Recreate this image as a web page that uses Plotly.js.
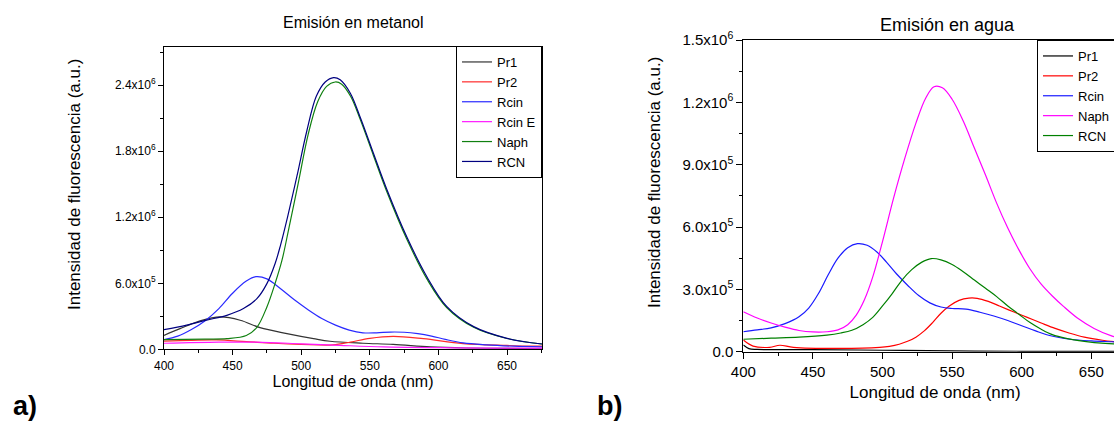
<!DOCTYPE html>
<html><head><meta charset="utf-8">
<script src="https://cdn.plot.ly/plotly-3.0.1.min.js"></script>
<style>html,body{margin:0;padding:0;overflow:hidden;background:#fff;width:1114px;height:423px}#chart{width:1130px;height:423px}</style>
</head><body><div id="chart"></div><script>
// ---------- Panel a) Emisión en metanol ----------
const a_Pr1_x = [400, 411.7, 426.3, 441, 455.5, 470, 489.6, 509, 521, 545, 567, 594, 620, 650, 675.5];
const a_Pr1_y = [1.27e5, 1.88e5, 2.58e5, 2.94e5, 2.64e5, 1.97e5, 1.43e5, 9.7e4, 7.3e4, 5.5e4, 4.5e4, 2.2e4, 1.2e4, 8e3, 5e3];
const a_Pr2_x = [400, 420, 438, 460, 480, 500, 523, 536, 550, 567, 589, 618, 650, 675.5];
const a_Pr2_y = [7.5e4, 8.2e4, 8.5e4, 7.0e4, 5.5e4, 4.5e4, 4.0e4, 6.6e4, 1.0e5, 1.18e5, 9.7e4, 5.2e4, 3.5e4, 2.8e4];
const a_Rcin_x = [400, 410, 420, 430, 440, 450, 460, 467, 475, 485, 495, 505, 515, 525, 535, 545, 555, 565, 575, 585, 595, 605, 618, 635, 655, 675.5];
const a_Rcin_y = [8.8e4, 1.2e5, 1.8e5, 2.6e5, 3.7e5, 5.1e5, 6.2e5, 6.6e5, 6.4e5, 5.5e5, 4.5e5, 3.6e5, 2.8e5, 2.2e5, 1.75e5, 1.5e5, 1.5e5, 1.57e5, 1.55e5, 1.42e5, 1.2e5, 9.0e4, 5.8e4, 4.0e4, 2.8e4, 2.2e4];
const a_RcinE_x = [400, 440, 467, 500, 528, 560, 600, 640, 675.5];
const a_RcinE_y = [5.5e4, 6.5e4, 6.5e4, 5.0e4, 3.6e4, 2.2e4, 1.5e4, 1.1e4, 1.0e4];
const a_Naph_x = [400, 430, 445.8, 460, 467.7, 475, 481, 486, 491, 498, 505, 512, 518.5, 524.8, 529.5, 536, 543, 552.7, 562.5, 577, 591.6, 606, 625.7, 650, 675.5];
const a_Naph_y = [8.8e4, 9.3e4, 9.7e4, 1.25e5, 2.0e5, 3.85e5, 6.0e5, 8.1e5, 1.1e6, 1.52e6, 1.95e6, 2.25e6, 2.39e6, 2.43e6, 2.41e6, 2.3e6, 2.09e6, 1.76e6, 1.43e6, 1.0e6, 6.4e5, 3.8e5, 2.0e5, 9.8e4, 4.8e4];
const a_RCN_x = [400, 416.5, 431, 445.8, 457.9, 467.7, 475, 481, 485, 490, 497, 504, 511, 517.5, 523.6, 528.4, 535.7, 543, 552.7, 562.5, 577, 591.6, 606, 625.7, 650, 675.5];
const a_RCN_y = [1.79e5, 2.2e5, 2.65e5, 3.09e5, 3.7e5, 4.6e5, 5.97e5, 7.8e5, 9.5e5, 1.2e6, 1.58e6, 1.98e6, 2.3e6, 2.43e6, 2.47e6, 2.45e6, 2.33e6, 2.11e6, 1.78e6, 1.45e6, 1.02e6, 6.6e5, 3.9e5, 2.06e5, 1.0e5, 4.8e4];
const a_yTickVals = [0, 6e5, 1.2e6, 1.8e6, 2.4e6];
const a_yTickText = ['0.0', '6.0x10<sup>5</sup>', '1.2x10<sup>6</sup>', '1.8x10<sup>6</sup>', '2.4x10<sup>6</sup>'];

// ---------- Panel b) Emisión en agua ----------
const b_Pr1_x = [400, 404, 410, 450, 500, 550, 600, 675.5];
const b_Pr1_y = [3.2e4, 1.5e4, 1.1e4, 1.0e4, 7e3, 4e3, 2e3, 1e3];
const b_Pr2_x = [400, 407, 419, 426.3, 436, 469.5, 498, 505, 512, 518, 524, 530, 536, 542, 548, 555, 562, 568, 576, 584, 594, 604, 614, 624, 634, 645, 658, 675.5];
const b_Pr2_y = [5.6e4, 2.7e4, 2.1e4, 3.1e4, 2.1e4, 1.6e4, 2.1e4, 2.6e4, 3.6e4, 5.0e4, 7.0e4, 1.0e5, 1.4e5, 1.85e5, 2.2e5, 2.47e5, 2.58e5, 2.57e5, 2.42e5, 2.2e5, 1.92e5, 1.65e5, 1.38e5, 1.12e5, 9.0e4, 7.0e4, 5.5e4, 4.2e4];
const b_Rcin_x = [400, 410, 420, 430, 440, 447, 454, 461, 468, 475, 482, 489, 496, 503, 510, 518, 526, 534, 542, 550, 560, 570, 580, 590, 600, 610, 620, 635, 650, 665, 675.5];
const b_Rcin_y = [9.6e4, 1.05e5, 1.15e5, 1.35e5, 1.68e5, 2.1e5, 2.8e5, 3.7e5, 4.5e5, 5.0e5, 5.2e5, 5.12e5, 4.8e5, 4.3e5, 3.75e5, 3.2e5, 2.7e5, 2.35e5, 2.15e5, 2.08e5, 2.05e5, 1.9e5, 1.72e5, 1.5e5, 1.25e5, 1.0e5, 7.8e4, 6.0e4, 5.2e4, 4.8e4, 4.5e4];
const b_Naph_x = [400, 410, 420, 430, 440, 450, 460, 468, 475, 481, 487, 493, 500, 508, 516, 524, 531, 537, 543, 550, 558, 566, 574, 582, 590, 598, 606, 614, 622, 630, 640, 652, 665, 675.5];
const b_Naph_y = [1.92e5, 1.62e5, 1.38e5, 1.18e5, 1.02e5, 9.5e4, 9.6e4, 1.05e5, 1.3e5, 1.75e5, 2.5e5, 3.6e5, 5.3e5, 7.4e5, 9.3e5, 1.1e6, 1.22e6, 1.275e6, 1.27e6, 1.215e6, 1.11e6, 9.8e5, 8.5e5, 7.15e5, 5.95e5, 4.9e5, 3.98e5, 3.25e5, 2.68e5, 2.18e5, 1.62e5, 1.12e5, 7.5e4, 5.8e4];
const b_RCN_x = [400, 420, 440, 460, 470, 478, 486, 493, 500, 507, 514, 521, 528, 535, 542, 550, 558, 566, 574, 582, 590, 598, 606, 614, 622, 632, 645, 660, 675.5];
const b_RCN_y = [6.0e4, 6.5e4, 7.0e4, 8.0e4, 9.0e4, 1.03e5, 1.3e5, 1.65e5, 2.2e5, 2.8e5, 3.45e5, 3.95e5, 4.3e5, 4.48e5, 4.42e5, 4.2e5, 3.85e5, 3.45e5, 3.05e5, 2.65e5, 2.2e5, 1.8e5, 1.4e5, 1.08e5, 8.2e4, 6.4e4, 5.0e4, 4.0e4, 3.5e4];
const b_yTickVals = [0, 3e5, 6e5, 9e5, 1.2e6, 1.5e6];
const b_yTickText = ['0.0', '3.0x10<sup>5</sup>', '6.0x10<sup>5</sup>', '9.0x10<sup>5</sup>', '1.2x10<sup>6</sup>', '1.5x10<sup>6</sup>'];

const xTitle = 'Longitud de onda (nm)';
const yTitle = 'Intensidad de fluorescencia (a.u.)';

const FONT = 'Liberation Sans, Arial, sans-serif';
const W = 1130, H = 423;
const px = v => v / W, py = v => (H - v) / H;

function tr(name, x, y, color, xa, ya, leg) {
  return {type: 'scatter', mode: 'lines', name: name, x: x, y: y,
    xaxis: xa, yaxis: ya, legend: leg,
    line: {color: color, width: 1.2, shape: 'spline', smoothing: 1}};
}

const data = [
  tr('Pr1', a_Pr1_x, a_Pr1_y, '#333333', 'x', 'y', 'legend'),
  tr('Pr2', a_Pr2_x, a_Pr2_y, '#ff2a2a', 'x', 'y', 'legend'),
  tr('Rcin', a_Rcin_x, a_Rcin_y, '#2a2aff', 'x', 'y', 'legend'),
  tr('Rcin E', a_RcinE_x, a_RcinE_y, '#ff1aff', 'x', 'y', 'legend'),
  tr('Naph', a_Naph_x, a_Naph_y, '#108010', 'x', 'y', 'legend'),
  tr('RCN', a_RCN_x, a_RCN_y, '#000080', 'x', 'y', 'legend'),
  tr('Pr1', b_Pr1_x, b_Pr1_y, '#000000', 'x2', 'y2', 'legend2'),
  tr('Pr2', b_Pr2_x, b_Pr2_y, '#ff0000', 'x2', 'y2', 'legend2'),
  tr('Rcin', b_Rcin_x, b_Rcin_y, '#1a1aff', 'x2', 'y2', 'legend2'),
  tr('Naph', b_Naph_x, b_Naph_y, '#ff00ff', 'x2', 'y2', 'legend2'),
  tr('RCN', b_RCN_x, b_RCN_y, '#008000', 'x2', 'y2', 'legend2')
];

function xax(dom, anchor, tfs, titleFs, standoff, tlen) {
  return {domain: dom, anchor: anchor, range: [400, 675.5], tickmode: 'linear', tick0: 400, dtick: 50,
    ticks: 'outside', ticklen: tlen, tickcolor: '#000', tickwidth: 1,
    minor: {dtick: 25, ticks: 'outside', ticklen: 3, tickcolor: '#000'},
    showline: true, linecolor: '#000', linewidth: 1, mirror: true, showgrid: false, zeroline: false,
    tickfont: {family: FONT, size: tfs, color: '#000'},
    title: {text: xTitle, font: {family: FONT, size: titleFs, color: '#000'}, standoff: standoff}};
}
function yax(dom, anchor, range, tv, tt, minorD, tfs, tlen) {
  return {domain: dom, anchor: anchor, range: range, tickmode: 'array', tickvals: tv, ticktext: tt,
    ticks: 'outside', ticklen: tlen, tickcolor: '#000', tickwidth: 1,
    minor: {tickmode: 'linear', tick0: 0, dtick: minorD, ticks: 'outside', ticklen: 3, tickcolor: '#000'},
    showline: true, linecolor: '#000', linewidth: 1, mirror: true, showgrid: false, zeroline: false,
    tickfont: {family: FONT, size: tfs, color: '#000'},
    title: {text: ''}};
}

const layout = {
  width: W, height: H, autosize: false,
  margin: {l: 0, r: 0, t: 0, b: 0},
  paper_bgcolor: '#fff', plot_bgcolor: '#fff',
  font: {family: FONT, color: '#000'},
  xaxis: xax([px(164), px(542)], 'y', 12, 16, 0, 5),
  yaxis: yax([py(349.3), py(47)], 'x', [0, 2.748e6], a_yTickVals, a_yTickText, 3e5, 12, 5),
  xaxis2: xax([px(743.3), px(1126.8)], 'y2', 15, 17, 7, 6),
  yaxis2: yax([py(351.7), py(40)], 'x2', [0, 1.5e6], b_yTickVals, b_yTickText, 1.5e5, 15, 6),
  legend: {x: px(542), y: py(46), xanchor: 'right', yanchor: 'top', bgcolor: '#fff',
    bordercolor: '#000', borderwidth: 1, font: {family: FONT, size: 13, color: '#000'}, tracegroupgap: 0},
  legend2: {x: px(1037), y: py(40), xanchor: 'left', yanchor: 'top', bgcolor: '#fff',
    bordercolor: '#000', borderwidth: 1, font: {family: FONT, size: 13, color: '#000'}, tracegroupgap: 0},
  showlegend: true,
  annotations: [
    {text: 'Emisión en metanol', x: px(353), y: py(23), xref: 'paper', yref: 'paper', showarrow: false,
      xanchor: 'center', yanchor: 'middle', font: {family: FONT, size: 16, color: '#000'}},
    {text: 'Emisión en agua', x: px(947), y: py(25), xref: 'paper', yref: 'paper', showarrow: false,
      xanchor: 'center', yanchor: 'middle', font: {family: FONT, size: 18, color: '#000'}},
    {text: yTitle, x: px(75), y: py(185), xref: 'paper', yref: 'paper', showarrow: false, textangle: -90,
      xanchor: 'center', yanchor: 'middle', font: {family: FONT, size: 17, color: '#000'}},
    {text: yTitle, x: px(655), y: py(183), xref: 'paper', yref: 'paper', showarrow: false, textangle: -90,
      xanchor: 'center', yanchor: 'middle', font: {family: FONT, size: 17, color: '#000'}},
    {text: '<b>a)</b>', x: px(11), y: py(406), xref: 'paper', yref: 'paper', showarrow: false,
      xanchor: 'left', yanchor: 'middle', font: {family: FONT, size: 27, color: '#000'}},
    {text: '<b>b)</b>', x: px(595), y: py(406), xref: 'paper', yref: 'paper', showarrow: false,
      xanchor: 'left', yanchor: 'middle', font: {family: FONT, size: 27, color: '#000'}}
  ]
};

Plotly.newPlot('chart', data, layout, {displayModeBar: false, staticPlot: true});
</script></body></html>
